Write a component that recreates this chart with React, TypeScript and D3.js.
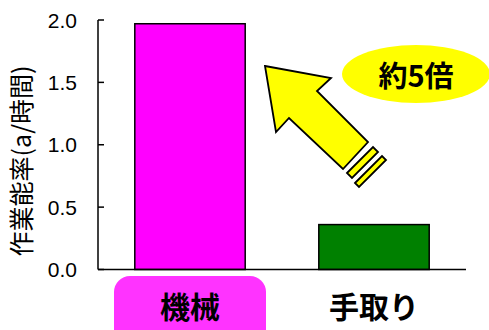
import React from "react";
import * as d3 from "d3";

const categories = ["機械", "手取り"];
const values = [1.97, 0.36];
const barColors = ["#FF00FF", "#008000"];
const yTicks = [0, 0.5, 1.0, 1.5, 2.0];
const yLabel = "作業能率(a/時間)";
const annotation = "約5倍";

const W = 489;
const H = 330;
const left = 98;
const right = 466;
const top = 20;
const bottom = 269.5;

export default function App() {
  const x = d3.scaleBand<string>().domain(categories).range([left, right]).paddingInner(0.4).paddingOuter(0.2);
  const y = d3.scaleLinear().domain([0, 2]).range([bottom, top]);
  const jp = "'Noto Sans CJK JP', 'Noto Sans', sans-serif";
  const arial = "'Liberation Sans', Arial, sans-serif";

  const arrow: [number, number][] = [
    [265, 66], [331, 78], [317, 91], [368, 142], [343, 169], [289, 118], [276, 132],
  ];
  const stripe1: [number, number][] = [[347, 173], [373, 147], [378, 152], [352, 178]];
  const stripe2: [number, number][] = [[355, 183], [382, 156], [386, 160], [359, 187]];
  const pts = (p: [number, number][]) => p.map((d) => d.join(",")).join(" ");

  return (
    <svg width={W} height={H} style={{ position: "absolute", left: 0, top: 0, background: "#fff" }}>
      {/* label highlight box for first category */}
      <rect
        x={(x(categories[0]) as number) + x.bandwidth() / 2 - 76}
        y={276}
        width={152}
        height={70}
        rx={16}
        fill="#FF33FF"
      />
      {/* bars */}
      {categories.map((c, i) => (
        <rect
          key={c}
          x={x(c)}
          y={y(values[i])}
          width={x.bandwidth()}
          height={y(0) - y(values[i])}
          fill={barColors[i]}
          stroke="#000"
          strokeWidth={1.5}
        />
      ))}
      {/* axes */}
      <line x1={left} x2={left} y1={top} y2={bottom} stroke="#000" strokeWidth={1.5} />
      <line x1={left} x2={right} y1={bottom} y2={bottom} stroke="#000" strokeWidth={1.5} />
      {yTicks.map((t) => (
        <g key={t}>
          <line x1={left} x2={left + 6} y1={y(t)} y2={y(t)} stroke="#000" strokeWidth={1.5} />
          <text x={77} y={y(t)} dy="0.36em" textAnchor="end" fontFamily={arial} fontSize={21} fill="#000">
            {t.toFixed(1)}
          </text>
        </g>
      ))}
      <text
        transform={`translate(22,161) rotate(-90)`}
        textAnchor="middle"
        dy="0.35em"
        fontFamily={jp}
        fontSize={25}
        fill="#000"
      >
        {yLabel}
      </text>
      {/* category labels */}
      {categories.map((c) => (
        <text
          key={c}
          x={(x(c) as number) + x.bandwidth() / 2}
          y={307}
          dy="0.35em"
          textAnchor="middle"
          fontFamily={jp}
          fontWeight="bold"
          fontSize={30}
          fill="#000"
        >
          {c}
        </text>
      ))}
      {/* arrow annotation */}
      <polygon points={pts(arrow)} fill="#FFFF00" stroke="#000" strokeWidth={1.8} strokeLinejoin="miter" />
      <polygon points={pts(stripe1)} fill="#FFFF00" stroke="#000" strokeWidth={1.8} />
      <polygon points={pts(stripe2)} fill="#FFFF00" stroke="#000" strokeWidth={1.8} />
      <ellipse cx={416} cy={74} rx={74} ry={29} fill="#FFFF00" />
      <text x={416} y={77} dy="0.35em" textAnchor="middle" fontFamily={jp} fontWeight="bold" fontSize={29} fill="#000">
        {annotation}
      </text>
    </svg>
  );
}
